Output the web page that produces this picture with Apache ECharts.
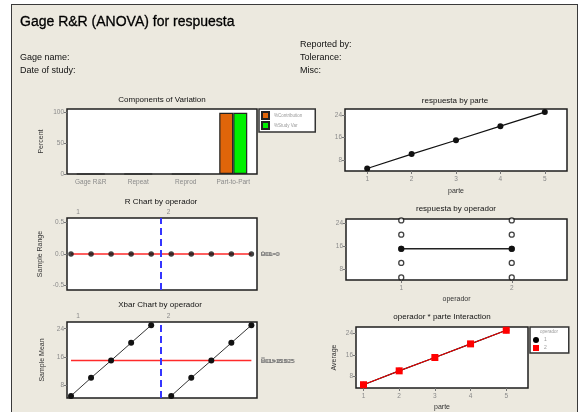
<!DOCTYPE html>
<html><head><meta charset="utf-8">
<script src="https://cdn.jsdelivr.net/npm/echarts@6/dist/echarts.min.js"></script>
<style>
html,body{margin:0;padding:0;background:#fff;width:582px;height:412px;overflow:hidden}
#frame{position:absolute;left:11px;top:4px;width:567px;height:430px;background:#ECE9DF;border:1.5px solid #3a3a3a;box-sizing:border-box}
#c{position:absolute;left:0;top:0;width:582px;height:412px}
</style></head><body><div id="frame"></div><div id="c"></div>
<script>
// ---- data ----
const components = ['Gage R&R', 'Repeat', 'Reprod', 'Part-to-Part'];
const pctContribution = [0, 0, 0, 100];
const pctStudyVar = [0, 0, 0, 100];
const parts = [1, 2, 3, 4, 5];
const partMeans = [5.0, 10.1, 15.0, 20.0, 25.0];
const operators = [1, 2];
const op1ByPart = [5.0, 10.1, 15.0, 20.0, 25.0];
const op2ByPart = [5.0, 10.1, 15.0, 20.0, 25.0];
const op1Ranges = [0, 0, 0, 0, 0];
const op2Ranges = [0, 0, 0, 0, 0];
const op1Samples = [1, 2, 3, 4, 5];
const op2Samples = [6, 7, 8, 9, 10];
const opMeans = [15.02, 15.02];
const rBar = 0;
const xDoubleBar = 15.02;
const groupBoundary = 5.5;
const groupLabels = ['1', '2'];
const groupLabelPos = [1.35, 5.87];
const rLabels = ['UCL=0', 'R\u0304=0', 'LCL=0'];
const xLabels = ['UCL=15.025', 'X\u033F=15.025', 'LCL=15.025'];
const ticksPct = [0, 50, 100];
const ticksR = [-0.5, 0, 0.5];
const ticksResp = [8, 16, 24];

// ---- styles ----
const F = 'Liberation Sans';
const lbl = (extra) => Object.assign({fontSize: 6.5, color: '#8a8a8a', fontFamily: F, margin: 3}, extra || {});
const tick = (vals) => ({show: true, length: 3, inside: false, lineStyle: {color: '#777', width: 1}, customValues: vals});
const gridBase = {show: true, backgroundColor: '#fff', borderColor: '#1e1e1e', borderWidth: 1.5, containLabel: false};
const nameStyle = {fontSize: 7, color: '#333', fontFamily: F};

const chart = echarts.init(document.getElementById('c'), null, {renderer: 'canvas'});

const valX = (i, min, max, vals, name, gap) => ({
  type: 'value', gridIndex: i, min: min, max: max,
  axisLine: {show: false}, splitLine: {show: false},
  axisTick: vals ? tick(vals) : {show: false},
  axisLabel: vals ? lbl({customValues: vals, margin: 5}) : {show: false},
  name: name || '', nameLocation: 'middle', nameGap: gap || 0, nameTextStyle: nameStyle
});
const valY = (i, min, max, vals, name, gap, fmt) => ({
  type: 'value', gridIndex: i, min: min, max: max,
  axisLine: {show: false}, splitLine: {show: false},
  axisTick: tick(vals),
  axisLabel: lbl(fmt ? {customValues: vals, formatter: fmt} : {customValues: vals}),
  name: name || '', nameLocation: 'middle', nameGap: gap || 0, nameTextStyle: nameStyle
});
const topX = (i) => ({
  type: 'value', gridIndex: i, position: 'top', min: 0.8, max: 10.28,
  axisLine: {show: false}, splitLine: {show: false}, axisTick: {show: false},
  axisLabel: lbl({customValues: groupLabelPos, margin: 2,
    formatter: (v) => groupLabels[groupLabelPos.indexOf(v)] || ''})
});

const pair = (xs, ys) => xs.map((x, k) => [x, ys[k]]);
const dotStyle = {color: '#111'};

const text = (t, x, y, size, opts) => Object.assign({
  type: 'text', x: x, y: y, z: 100,
  style: Object.assign({text: t, fontSize: size, fontFamily: F, fill: '#111', align: 'left', verticalAlign: 'middle'}, (opts && opts.style) || {})
}, (opts && opts.el) || {});

const graphics = [
  text('Gage R&R (ANOVA) for respuesta', 20, 22, 14, {style: {fill: '#000', stroke: '#000', lineWidth: 0.3}}),
  text('Reported by:', 300, 45, 9),
  text('Tolerance:', 300, 58, 9),
  text('Misc:', 300, 71, 9),
  text('Gage name:', 20, 58, 9),
  text('Date of study:', 20, 71, 9),
  text('Components of Variation', 162, 100, 8, {style: {align: 'center'}}),
  text('respuesta by parte', 455, 101, 8, {style: {align: 'center'}}),
  text('R Chart by operador', 161, 202, 8, {style: {align: 'center'}}),
  text('respuesta by operador', 456, 209, 8, {style: {align: 'center'}}),
  text('Xbar Chart by operador', 160, 305, 8, {style: {align: 'center'}}),
  text('operador * parte Interaction', 442, 317, 8, {style: {align: 'center'}}),
  text('operador', 549, 332, 4.5, {style: {align: 'center', fill: '#999'}})
];
rLabels.forEach(t => graphics.push(text(t, 261, 254, 6, {style: {fill: '#777'}})));
xLabels.forEach(t => graphics.push(text(t, 261, 361, 6, {style: {fill: '#777'}})));

const option = {
  animation: false,
  backgroundColor: 'transparent',
  textStyle: {fontFamily: F},
  grid: [
    Object.assign({left: 67, top: 109, width: 190, height: 65}, gridBase),
    Object.assign({left: 345, top: 109, width: 222, height: 62}, gridBase),
    Object.assign({left: 67, top: 218, width: 190, height: 72}, gridBase),
    Object.assign({left: 346, top: 219, width: 221, height: 61}, gridBase),
    Object.assign({left: 67, top: 322, width: 190, height: 76}, gridBase),
    Object.assign({left: 356, top: 327, width: 172, height: 62}, gridBase)
  ],
  xAxis: [
    {type: 'category', gridIndex: 0, data: components, axisLine: {show: false}, axisTick: {show: false},
     axisLabel: lbl({margin: 5, interval: 0})},
    valX(1, 0.5, 5.5, parts, 'parte', 17),
    valX(2, 0.8, 10.28, null),
    topX(2),
    valX(3, 0.5, 2.5, operators, 'operador', 16),
    valX(4, 0.8, 10.28, null),
    topX(4),
    valX(5, 0.79, 5.61, parts, 'parte', 16)
  ],
  yAxis: [
    valY(0, 0, 106, ticksPct, 'Percent', 22),
    valY(1, 4.1, 26.1, ticksResp),
    valY(2, -0.57, 0.57, ticksR, 'Sample Range', 23, (v) => v.toFixed(1)),
    valY(3, 4.1, 25.5, ticksResp),
    valY(4, 4.4, 25.9, ticksResp, 'Sample Mean', 21),
    valY(5, 3.8, 26.2, ticksResp, 'Average', 18)
  ],
  legend: [
    {data: [{name: '%Contribution', icon: 'rect'}, {name: '%Study Var', icon: 'rect'}],
     left: 259, top: 109, orient: 'vertical', itemWidth: 7, itemHeight: 7, itemGap: 1,
     padding: [2, 13, 2, 2], borderColor: '#333', borderWidth: 1.5, backgroundColor: '#fff',
     textStyle: {fontSize: 4.5, color: '#999', fontFamily: F}, selectedMode: false},
    {data: [{name: '1', icon: 'circle'}, {name: '2', icon: 'rect'}],
     left: 530, top: 327, orient: 'vertical', itemWidth: 6, itemHeight: 6, itemGap: 2,
     padding: [10, 22, 2, 3], borderColor: '#333', borderWidth: 1.5, backgroundColor: '#fff',
     textStyle: {fontSize: 5, color: '#999', fontFamily: F}, selectedMode: false}
  ],
  graphic: graphics,
  series: [
    {name: '%Contribution', type: 'bar', xAxisIndex: 0, yAxisIndex: 0, data: pctContribution,
     barWidth: 14, barGap: '0%', itemStyle: {color: '#E0650A', borderColor: '#222', borderWidth: 1.2}},
    {name: '%Study Var', type: 'bar', xAxisIndex: 0, yAxisIndex: 0, data: pctStudyVar,
     barWidth: 14, barGap: '0%', itemStyle: {color: '#00F000', borderColor: '#222', borderWidth: 1.2}},

    {name: 'parte', type: 'line', xAxisIndex: 1, yAxisIndex: 1, data: pair(parts, partMeans),
     symbol: 'circle', symbolSize: 6, itemStyle: dotStyle, lineStyle: {color: '#111', width: 1.2}},

    {name: 'Rbar', type: 'line', xAxisIndex: 2, yAxisIndex: 2, data: [[1, rBar], [10, rBar]],
     symbol: 'none', lineStyle: {color: '#FF2a2a', width: 1.5}, z: 2,
     markLine: {silent: true, symbol: 'none', label: {show: false},
       lineStyle: {color: '#3535FF', width: 2, type: [7, 4]}, data: [{xAxis: groupBoundary}]}},
    {name: 'R1', type: 'scatter', xAxisIndex: 2, yAxisIndex: 2, data: pair(op1Samples, op1Ranges),
     symbolSize: 5.5, itemStyle: dotStyle, z: 4},
    {name: 'R2', type: 'scatter', xAxisIndex: 2, yAxisIndex: 2, data: pair(op2Samples, op2Ranges),
     symbolSize: 5.5, itemStyle: dotStyle, z: 4},

    {name: 'obs', type: 'scatter', xAxisIndex: 4, yAxisIndex: 3,
     data: pair(op1ByPart.map(() => operators[0]), op1ByPart).concat(pair(op2ByPart.map(() => operators[1]), op2ByPart)),
     symbolSize: 5, itemStyle: {color: '#fff', borderColor: '#111', borderWidth: 1.3}},
    {name: 'opMean', type: 'line', xAxisIndex: 4, yAxisIndex: 3, data: pair(operators, opMeans),
     symbol: 'circle', symbolSize: 6, itemStyle: dotStyle, lineStyle: {color: '#222', width: 1.5}, z: 5},

    {name: 'Xbar line', type: 'line', xAxisIndex: 5, yAxisIndex: 4, data: [[1, xDoubleBar], [10, xDoubleBar]],
     symbol: 'none', lineStyle: {color: '#FF2a2a', width: 1.5}, z: 2,
     markLine: {silent: true, symbol: 'none', label: {show: false},
       lineStyle: {color: '#3535FF', width: 2, type: [7, 4]}, data: [{xAxis: groupBoundary}]}},
    {name: 'X1', type: 'line', xAxisIndex: 5, yAxisIndex: 4, data: pair(op1Samples, op1ByPart),
     symbol: 'circle', symbolSize: 6, itemStyle: dotStyle, lineStyle: {color: '#333', width: 1}, z: 4},
    {name: 'X2', type: 'line', xAxisIndex: 5, yAxisIndex: 4, data: pair(op2Samples, op2ByPart),
     symbol: 'circle', symbolSize: 6, itemStyle: dotStyle, lineStyle: {color: '#333', width: 1}, z: 4},

    {name: '1', type: 'line', xAxisIndex: 7, yAxisIndex: 5, data: pair(parts, op1ByPart),
     symbol: 'circle', symbolSize: 6, itemStyle: {color: '#000'}, lineStyle: {color: '#000', width: 1.2}},
    {name: '2', type: 'line', xAxisIndex: 7, yAxisIndex: 5, data: pair(parts, op2ByPart),
     symbol: 'rect', symbolSize: 7, itemStyle: {color: '#FF0000'}, lineStyle: {color: '#FF0000', width: 1}}
  ]
};
chart.setOption(option);
</script></body></html>
